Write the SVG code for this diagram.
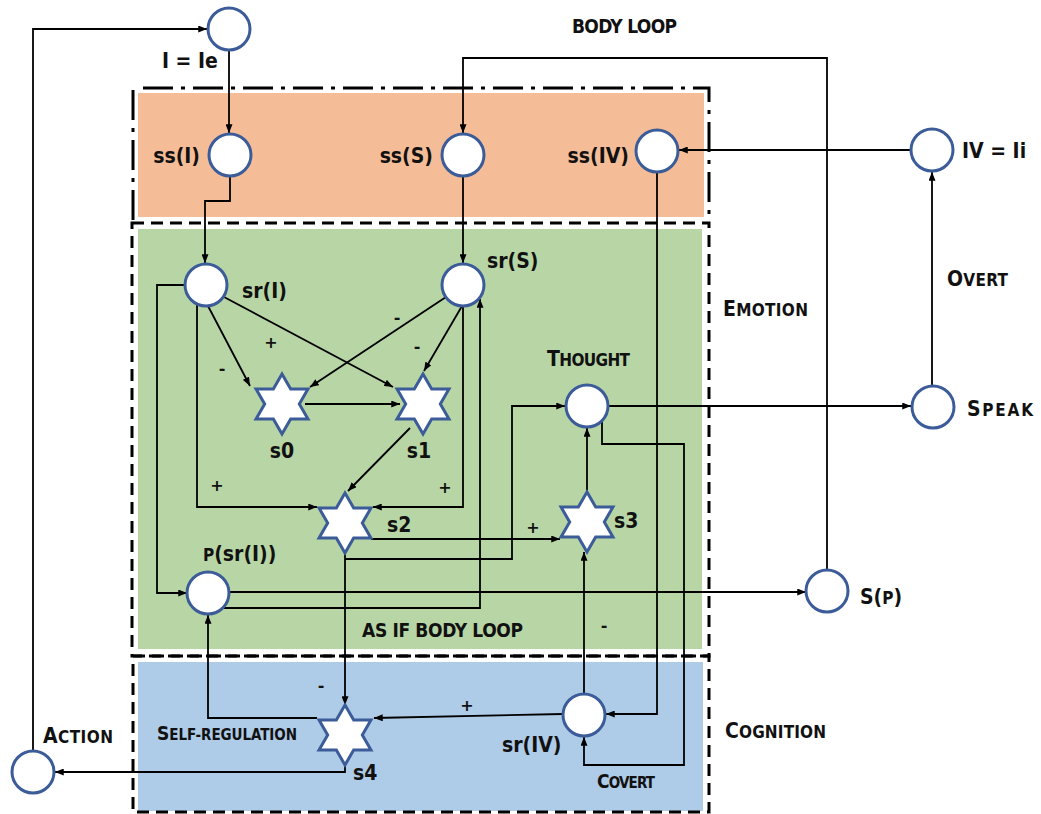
<svg xmlns="http://www.w3.org/2000/svg" width="1041" height="814" viewBox="0 0 1041 814">
<defs>
<style>
.node{fill:#fff;stroke:#3B5C99;stroke-width:3}
.con{fill:none;stroke:#000;stroke-width:1.8}
.arr{marker-end:url(#ah)}
.lbl{font-family:"DejaVu Sans Condensed","DejaVu Sans",sans-serif;font-weight:bold;fill:#111;font-size:21px}
.sc{font-size:17px}
.sgn{font-family:"DejaVu Sans",sans-serif;font-weight:bold;font-size:16px;fill:#111;text-anchor:middle}
.dash{fill:none;stroke:#000;stroke-width:3;stroke-dasharray:12,7}
.dd{fill:none;stroke:#000;stroke-width:3;stroke-dasharray:30,8,4,8}
</style>
<marker id="ah" viewBox="0 0 10 8" refX="10" refY="4" markerWidth="9" markerHeight="7" markerUnits="userSpaceOnUse" orient="auto">
<path d="M0,0 L10,4 L0,8 Z" fill="#000"/>
</marker>
<path id="star" d="M0,-30 L8.66,-15 L25.98,-15 L17.32,0 L25.98,15 L8.66,15 L0,30 L-8.66,15 L-25.98,15 L-17.32,0 L-25.98,-15 L-8.66,-15 Z"/>
</defs>
<rect width="1041" height="814" fill="#fff"/>
<g id="regions">
<rect x="138" y="93" width="566" height="124" fill="#F5BD97"/>
<rect x="138" y="229" width="564" height="420" fill="#B8D6A5"/>
<rect x="138" y="662" width="565" height="149" fill="#AECBE8"/>
<path class="dd" d="M143,88 H709 V222 M133,90 V222"/>
<rect class="dash" x="132" y="223" width="577" height="433"/>
<rect class="dash" x="133" y="656" width="576" height="156"/>
<text class="lbl" x="723" y="316" textLength="85" lengthAdjust="spacing">E<tspan class="sc">MOTION</tspan></text>
<text class="lbl" x="725" y="738" textLength="101" lengthAdjust="spacing">C<tspan class="sc">OGNITION</tspan></text>
</g>
<g id="connectors">
<path class="con arr" d="M33,751 V29 H207"/>
<path class="con arr" d="M229,50 V133"/>
<path class="con arr" d="M230,176 V201 H205 V263"/>
<path class="con arr" d="M827,570 V58 H463 V133"/>
<path class="con arr" d="M463,176 V263"/>
<path class="con arr" d="M911,150 H679"/>
<path class="con arr" d="M657,172 V714 H606"/>
<path class="con arr" d="M602,421 V444 H684 V765 H584 V737"/>
<path class="con arr" d="M608,406 H911"/>
<path class="con arr" d="M932,386 V172"/>
<path class="con arr" d="M584,694 V552"/>
<path class="con arr" d="M587,492 V428"/>
<path class="con arr" d="M371,539 H560"/>
<path class="con arr" d="M345,559 H512 V406 H565"/>
<path class="con arr" d="M345,553 V705"/>
<path class="con arr" d="M229,592 H806"/>
<path class="con arr" d="M222,608 H480 V299"/>
<path class="con arr" d="M185,285 H157 V593 H187"/>
<path class="con arr" d="M197,304 V507 H317"/>
<path class="con arr" d="M463,306 V507 H373"/>
<path class="con arr" d="M208,306 L250,386"/>
<path class="con arr" d="M224,297 L393,387"/>
<path class="con arr" d="M446,297 L310,387"/>
<path class="con arr" d="M462,306 L424,371"/>
<path class="con arr" d="M305,404 H400"/>
<path class="con arr" d="M410,428 L348,491"/>
<path class="con arr" d="M563,714 L374,718"/>
<path class="con arr" d="M317,718 H208 V615"/>
<path class="con arr" d="M345,765 V772 H55"/>
<text class="sgn" x="222" y="374">-</text>
<text class="sgn" x="271" y="348">+</text>
<text class="sgn" x="397" y="323">-</text>
<text class="sgn" x="417" y="352">-</text>
<text class="sgn" x="217" y="491">+</text>
<text class="sgn" x="445" y="493">+</text>
<text class="sgn" x="533" y="533">+</text>
<text class="sgn" x="604" y="631">-</text>
<text class="sgn" x="321" y="691">-</text>
<text class="sgn" x="467" y="711">+</text>
<text class="lbl" x="572" y="33" style="font-size:19px" textLength="105" lengthAdjust="spacing">BODY LOOP</text>
<text class="lbl" x="362" y="637" style="font-size:19px" textLength="161" lengthAdjust="spacing">AS IF BODY LOOP</text>
<text class="lbl" x="947" y="286" textLength="61" lengthAdjust="spacing">O<tspan class="sc">VERT</tspan></text>
<text class="lbl" x="597" y="788" style="font-size:19px" textLength="58" lengthAdjust="spacing">C<tspan style="font-size:15px">OVERT</tspan></text>
<text class="lbl" x="157" y="740" style="font-size:19px" textLength="140" lengthAdjust="spacing">S<tspan style="font-size:15px">ELF-REGULATION</tspan></text>
</g>
<g id="n_I"><circle class="node" cx="229" cy="29" r="21"/><text class="lbl" x="162" y="68">I = Ie</text></g>
<g id="n_ssI"><circle class="node" cx="230" cy="155" r="21"/><text class="lbl" x="200" y="163" text-anchor="end">ss(I)</text></g>
<g id="n_ssS"><circle class="node" cx="463" cy="155" r="21"/><text class="lbl" x="433" y="163" text-anchor="end">ss(S)</text></g>
<g id="n_ssIV"><circle class="node" cx="657" cy="151" r="21"/><text class="lbl" x="629" y="163" text-anchor="end">ss(IV)</text></g>
<g id="n_IV"><circle class="node" cx="932" cy="150" r="21"/><text class="lbl" x="962" y="158">IV = Ii</text></g>
<g id="n_srI"><circle class="node" cx="206" cy="285" r="21"/><text class="lbl" x="242" y="298">sr(I)</text></g>
<g id="n_srS"><circle class="node" cx="463" cy="285" r="21"/><text class="lbl" x="487" y="268">sr(S)</text></g>
<g id="n_s0"><use href="#star" x="282" y="404" class="node"/><text class="lbl" x="282" y="458" text-anchor="middle">s0</text></g>
<g id="n_s1"><use href="#star" x="423" y="404" class="node"/><text class="lbl" x="419" y="458" text-anchor="middle">s1</text></g>
<g id="n_s2"><use href="#star" x="345" y="523" class="node"/><text class="lbl" x="387" y="532">s2</text></g>
<g id="n_s3"><use href="#star" x="587" y="522" class="node"/><text class="lbl" x="614" y="528">s3</text></g>
<g id="n_s4"><use href="#star" x="345" y="735" class="node"/><text class="lbl" x="353" y="780">s4</text></g>
<g id="n_thought"><circle class="node" cx="587" cy="406" r="21"/><text class="lbl" x="547" y="366" textLength="83" lengthAdjust="spacing">T<tspan class="sc">HOUGHT</tspan></text></g>
<g id="n_speak"><circle class="node" cx="933" cy="407" r="21"/><text class="lbl" x="967" y="416" textLength="66" lengthAdjust="spacing">S<tspan class="sc">PEAK</tspan></text></g>
<g id="n_p"><circle class="node" cx="208" cy="593" r="21"/><text class="lbl" x="203" y="561"><tspan class="sc">P</tspan>(sr(I))</text></g>
<g id="n_Sp"><circle class="node" cx="827" cy="591" r="21"/><text class="lbl" x="860" y="604">S(<tspan class="sc">P</tspan>)</text></g>
<g id="n_srIV"><circle class="node" cx="584" cy="715" r="21"/><text class="lbl" x="502" y="752">sr(IV)</text></g>
<g id="n_action"><circle class="node" cx="33" cy="772" r="21"/><text class="lbl" x="43" y="743" textLength="70" lengthAdjust="spacing">A<tspan class="sc">CTION</tspan></text></g>
</svg>
